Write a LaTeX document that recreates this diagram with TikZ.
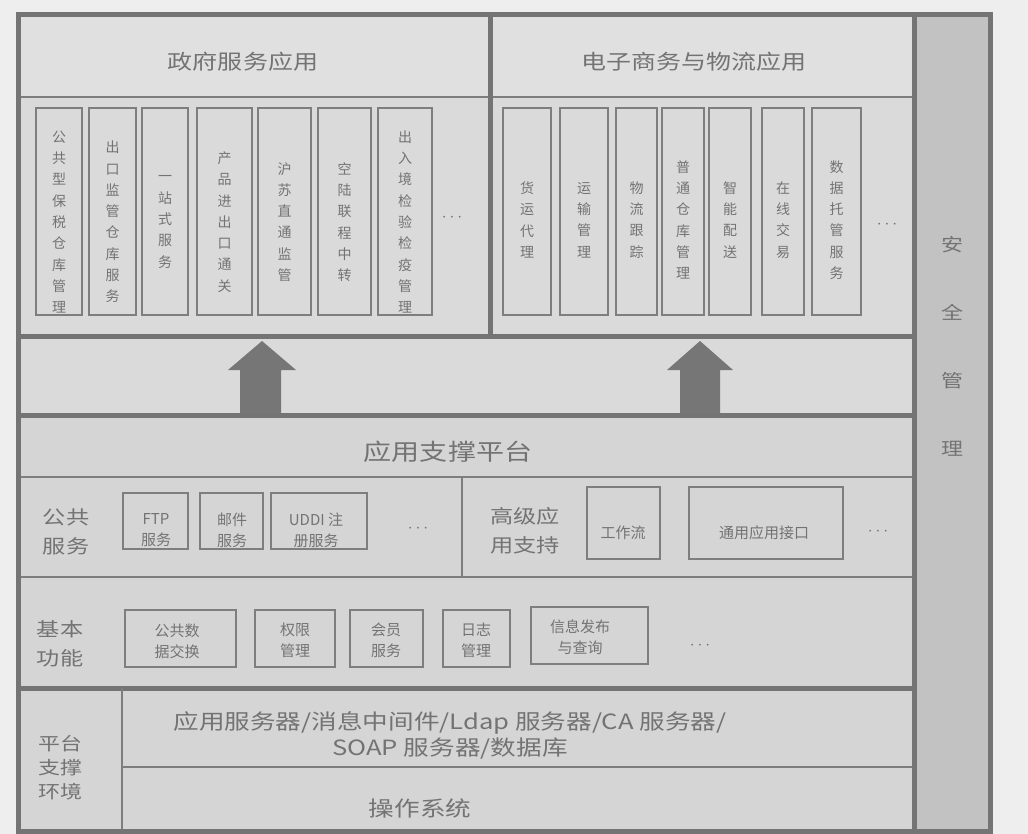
\documentclass[tikz,border=0pt]{standalone}
\usepackage{fontspec}
\setmainfont{Noto Sans CJK SC}
\newfontfamily\cjkw[FakeStretch=1.22]{Noto Sans CJK SC}
\usetikzlibrary{fit}
\definecolor{bgc}{HTML}{EEEEEE}
\definecolor{panel}{HTML}{DADADA}
\definecolor{paneltop}{HTML}{E0E0E0}
\definecolor{lowpanel}{HTML}{D5D5D5}
\definecolor{secc}{HTML}{C2C2C2}
\definecolor{linec}{HTML}{7E7E7E}
\definecolor{thickc}{HTML}{747474}
\definecolor{txt}{HTML}{737373}
\definecolor{arrowc}{HTML}{767676}
\newcommand\vitem[5]{%
  \node[itembox, fit={(#2,108) (#3,315)}] (#1) {};
  \node[vtext] (#1t) at ({(#2+#3)/2},#4) {#5};}
\newcommand\hitem[8]{%
  \node[itembox, fit={(#2,#3) (#4,#5)}] (#1) {};
  \node[htext] (#1t) at (#6,#7) {#8};}
\begin{document}
\begin{tikzpicture}[x=1pt,y=-1pt,
 thickline/.style={draw=thickc, line width=5pt},
 thinline/.style={draw=linec, line width=2pt},
 itembox/.style={draw=linec, line width=1.8pt, inner sep=0pt},
 vtext/.style={text=txt, font=\fontsize{14}{21.3}\selectfont, align=center, inner sep=0pt},
 htext/.style={text=txt, font=\fontsize{15}{21}\selectfont, align=center, inner sep=0pt},
 ttl/.style={text=txt, font=\cjkw\fontsize{20.5}{24}\selectfont, inner sep=0pt},
 bigttl/.style={text=txt, font=\cjkw\fontsize{23}{26}\selectfont, inner sep=0pt},
 lbl/.style={text=txt, font=\cjkw\fontsize{19}{29}\selectfont, align=center, inner sep=0pt},
 lblp/.style={text=txt, font=\cjkw\fontsize{18}{24}\selectfont, align=center, inner sep=0pt},
 seclbl/.style={text=txt, font=\cjkw\fontsize{18}{68}\selectfont, align=center, inner sep=0pt},
 btxt/.style={text=txt, font=\cjkw\fontsize{21}{26}\selectfont, align=center, inner sep=0pt},
 dotsx/.style={text=txt, font=\fontsize{19}{19}\selectfont, inner sep=0pt},
 bigarrow/.style={fill=arrowc}]
\fill[bgc] (0,0) rectangle (1028,834);
\useasboundingbox (0,0) rectangle (1028,834);
% panels
\fill[panel] (18,15) rectangle (914,831);
\fill[paneltop] (18,15) rectangle (914,97);
\fill[lowpanel] (18,415) rectangle (914,831);
\fill[secc] (914,15) rectangle (990,831);
% arrows
\fill[bigarrow] (240,415) -- (240,370) -- (228,370) -- (262,341) -- (296,370) -- (281,370) -- (281,415) -- cycle;
\fill[bigarrow] (680,415) -- (680,370) -- (667,370) -- (700,341) -- (733,370) -- (720,370) -- (720,415) -- cycle;
% grid lines
\draw[thinline] (20,97) -- (912,97);
\draw[thickline] (490,15) -- (490,336);
\draw[thickline] (18,336) -- (914,336);
\draw[thickline] (18,415) -- (914,415);
\draw[thinline] (18,477) -- (914,477);
\draw[thinline] (462,477) -- (462,577);
\draw[thinline] (18,577) -- (914,577);
\draw[thickline] (18,688) -- (914,688);
\draw[thinline] (122,688) -- (122,831);
\draw[thinline] (122,767) -- (914,767);
\draw[thickline] (914,15) -- (914,831);
\draw[thickline] (18,15) rectangle (990,831);
% titles
\node[ttl] (govtitle) at (243,62) {政府服务应用};
\node[ttl] (ectitle) at (694,62) {电子商务与物流应用};
% government items
\vitem{g1}{36}{82}{222}{公\\共\\型\\保\\税\\仓\\库\\管\\理}
\vitem{g2}{89}{136}{222}{出\\口\\监\\管\\仓\\库\\服\\务}
\vitem{g3}{142}{188}{222}{一\\站\\式\\服\\务}
\vitem{g4}{197}{252}{222}{产\\品\\进\\出\\口\\通\\关}
\vitem{g5}{258}{311}{222}{沪\\苏\\直\\通\\监\\管}
\vitem{g6}{318}{371}{222}{空\\陆\\联\\程\\中\\转}
\vitem{g7}{378}{432}{222}{出\\入\\境\\检\\验\\检\\疫\\管\\理}
\node[dotsx] (gdots) at (452,218) {$\cdots$};
% e-commerce items
\vitem{e1}{503}{551}{220}{货\\运\\代\\理}
\vitem{e2}{560}{608}{220}{运\\输\\管\\理}
\vitem{e3}{616}{657}{220}{物\\流\\跟\\踪}
\vitem{e4}{662}{704}{220}{普\\通\\仓\\库\\管\\理}
\vitem{e5}{709}{751}{220}{智\\能\\配\\送}
\vitem{e6}{762}{804}{220}{在\\线\\交\\易}
\vitem{e7}{812}{861}{220}{数\\据\\托\\管\\服\\务}
\node[dotsx] (edots) at (887,225) {$\cdots$};
% application support platform
\node[bigttl] (asp) at (448,452) {应用支撑平台};
\node[lbl] (pub) at (66,532) {公共\\服务};
\hitem{ftp}{123}{493}{188}{549}{156}{530}{FTP\\服务}
\hitem{mail}{200}{493}{263}{549}{232}{530}{邮件\\服务}
\hitem{uddi}{271}{493}{367}{549}{316}{530}{UDDI 注\\册服务}
\node[dotsx] (pdots) at (418,529) {$\cdots$};
\node[lbl] (adv) at (525,531) {高级应\\用支持};
\hitem{wf}{587}{487}{660}{559}{623}{533}{工作流}
\hitem{api}{689}{487}{843}{559}{764}{533}{通用应用接口}
\node[dotsx] (adots) at (878,532) {$\cdots$};
\node[lbl] (basic) at (60,644) {基本\\功能};
\hitem{pdx}{125}{610}{236}{667}{177}{641}{公共数\\据交换}
\hitem{perm}{255}{610}{335}{667}{295}{640}{权限\\管理}
\hitem{mem}{350}{610}{423}{667}{386}{640}{会员\\服务}
\hitem{log}{443}{610}{510}{667}{476}{640}{日志\\管理}
\hitem{info}{531}{607}{648}{664}{580}{637}{信息发布\\与查询}
\node[dotsx] (bdots) at (700,646) {$\cdots$};
% platform environment
\node[lblp] (plat) at (60,768) {平台\\支撑\\环境};
\node[btxt] (mw) at (450,735) {应用服务器/消息中间件/Ldap 服务器/CA 服务器/\\SOAP 服务器/数据库};
\node[btxt] (os) at (420,808) {操作系统};
% security
\node[seclbl] (sec) at (952,346) {安\\全\\管\\理};
\end{tikzpicture}
\end{document}
